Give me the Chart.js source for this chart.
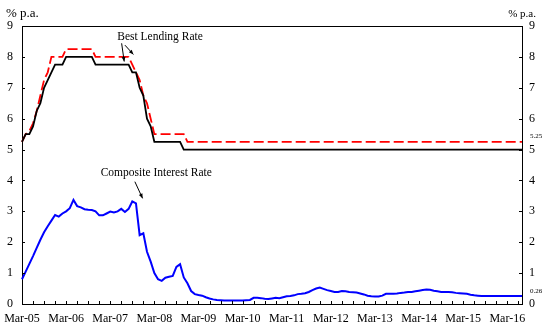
<!DOCTYPE html>
<html>
<head>
<meta charset="utf-8">
<script src="https://cdn.jsdelivr.net/npm/chart.js@4.4.0/dist/chart.umd.min.js"></script>
<style>
  html, body { margin: 0; padding: 0; background: #fff; }
  canvas { display: block; }
</style>
</head>
<body>
<canvas id="chart" width="548" height="333"></canvas>
<script>
// Lending rates vs composite interest rate, monthly from Mar-05 to Jul-16

const MONTH_NAMES = ['Jan', 'Feb', 'Mar', 'Apr', 'May', 'Jun', 'Jul', 'Aug', 'Sep', 'Oct', 'Nov', 'Dec'];
const tickLabels = ['Mar-05', 'Mar-06', 'Mar-07', 'Mar-08', 'Mar-09', 'Mar-10',
  'Mar-11', 'Mar-12', 'Mar-13', 'Mar-14', 'Mar-15', 'Mar-16'];
const yTicks = [0, 1, 2, 3, 4, 5, 6, 7, 8, 9];

// Best lending rate (lower band, black), one row per year Mar..Feb
const blrLow = [
  5.25, 5.5, 5.5, 5.75, 6.25, 6.5, 7.0, 7.25, 7.5, 7.75, 7.75, 7.75,
  8.0, 8.0, 8.0, 8.0, 8.0, 8.0, 8.0, 8.0, 7.75, 7.75, 7.75, 7.75,
  7.75, 7.75, 7.75, 7.75, 7.75, 7.75, 7.5, 7.5, 7.0, 6.75, 6.0, 5.75,
  5.25, 5.25, 5.25, 5.25, 5.25, 5.25, 5.25, 5.25, 5.0, 5.0, 5.0, 5.0,
  5.0, 5.0, 5.0, 5.0, 5.0, 5.0, 5.0, 5.0, 5.0, 5.0, 5.0, 5.0,
  5.0, 5.0, 5.0, 5.0, 5.0, 5.0, 5.0, 5.0, 5.0, 5.0, 5.0, 5.0,
  5.0, 5.0, 5.0, 5.0, 5.0, 5.0, 5.0, 5.0, 5.0, 5.0, 5.0, 5.0,
  5.0, 5.0, 5.0, 5.0, 5.0, 5.0, 5.0, 5.0, 5.0, 5.0, 5.0, 5.0,
  5.0, 5.0, 5.0, 5.0, 5.0, 5.0, 5.0, 5.0, 5.0, 5.0, 5.0, 5.0,
  5.0, 5.0, 5.0, 5.0, 5.0, 5.0, 5.0, 5.0, 5.0, 5.0, 5.0, 5.0,
  5.0, 5.0, 5.0, 5.0, 5.0, 5.0, 5.0, 5.0, 5.0, 5.0, 5.0, 5.0,
  5.0, 5.0, 5.0, 5.0, 5.0
];

// Best lending rate (upper band, red dashed)
const blrHigh = [
  5.25, 5.5, 5.6, 5.85, 6.25, 6.75, 7.25, 7.5, 8.0, 8.0, 8.0, 8.0,
  8.25, 8.25, 8.25, 8.25, 8.25, 8.25, 8.25, 8.25, 8.0, 8.0, 8.0, 8.0,
  8.0, 8.0, 8.0, 8.0, 8.0, 8.0, 7.75, 7.5, 7.25, 6.75, 6.5, 6.0,
  5.5, 5.5, 5.5, 5.5, 5.5, 5.5, 5.5, 5.5, 5.5, 5.25, 5.25, 5.25,
  5.25, 5.25, 5.25, 5.25, 5.25, 5.25, 5.25, 5.25, 5.25, 5.25, 5.25, 5.25,
  5.25, 5.25, 5.25, 5.25, 5.25, 5.25, 5.25, 5.25, 5.25, 5.25, 5.25, 5.25,
  5.25, 5.25, 5.25, 5.25, 5.25, 5.25, 5.25, 5.25, 5.25, 5.25, 5.25, 5.25,
  5.25, 5.25, 5.25, 5.25, 5.25, 5.25, 5.25, 5.25, 5.25, 5.25, 5.25, 5.25,
  5.25, 5.25, 5.25, 5.25, 5.25, 5.25, 5.25, 5.25, 5.25, 5.25, 5.25, 5.25,
  5.25, 5.25, 5.25, 5.25, 5.25, 5.25, 5.25, 5.25, 5.25, 5.25, 5.25, 5.25,
  5.25, 5.25, 5.25, 5.25, 5.25, 5.25, 5.25, 5.25, 5.25, 5.25, 5.25, 5.25,
  5.25, 5.25, 5.25, 5.25, 5.25
];

// Composite interest rate (blue)
const compositeRate = [
  0.80, 1.05, 1.30, 1.55, 1.82, 2.08, 2.32, 2.52, 2.70, 2.88, 2.83, 2.93,
  3.00, 3.10, 3.37, 3.17, 3.13, 3.07, 3.05, 3.04, 3.00, 2.87, 2.87, 2.93,
  2.99, 2.96, 3.00, 3.08, 2.98, 3.08, 3.32, 3.26, 2.23, 2.29, 1.69, 1.37,
  1.00, 0.80, 0.75, 0.85, 0.88, 0.91, 1.20, 1.29, 0.86, 0.67, 0.42, 0.32,
  0.29, 0.27, 0.22, 0.18, 0.15, 0.13, 0.12, 0.11, 0.11, 0.11, 0.11, 0.11,
  0.11, 0.12, 0.13, 0.20, 0.20, 0.19, 0.17, 0.16, 0.18, 0.20, 0.19, 0.22,
  0.25, 0.26, 0.28, 0.32, 0.33, 0.35, 0.39, 0.45, 0.50, 0.53, 0.49, 0.45,
  0.42, 0.39, 0.39, 0.42, 0.41, 0.39, 0.38, 0.37, 0.34, 0.31, 0.27, 0.25,
  0.24, 0.24, 0.27, 0.33, 0.33, 0.33, 0.34, 0.36, 0.37, 0.39, 0.39, 0.41,
  0.43, 0.45, 0.47, 0.46, 0.43, 0.41, 0.39, 0.39, 0.39, 0.38, 0.36, 0.35,
  0.34, 0.33, 0.30, 0.28, 0.27, 0.26, 0.26, 0.26, 0.26, 0.26, 0.26, 0.26,
  0.26, 0.26, 0.26, 0.26, 0.26
];

// month labels Mar-05 ... Jul-16
const months = compositeRate.map((_, i) => {
  const m = (2 + i) % 12;
  const y = 5 + Math.floor((2 + i) / 12);
  return MONTH_NAMES[m] + '-' + String(y).padStart(2, '0');
});

const FONT = "'Liberation Serif', 'Times New Roman', serif";

// annotation anchors in data units: [monthIndex, value]
const notes = {
  blrText: [25.9, 8.64],
  blrArrowLow: [[27.1, 8.44], [27.8, 7.85]],
  blrArrowHigh: [[28.0, 8.38], [30.3, 8.08]],
  ciText: [21.4, 4.25],
  ciArrow: [[30.7, 3.96], [32.8, 3.42]],
};

function arrow(ctx, x1, y1, x2, y2) {
  const ang = Math.atan2(y2 - y1, x2 - x1);
  const len = 5;
  ctx.beginPath();
  ctx.moveTo(x1, y1);
  ctx.lineTo(x2, y2);
  ctx.stroke();
  ctx.beginPath();
  ctx.moveTo(x2, y2);
  ctx.lineTo(x2 - len * Math.cos(ang - 0.4), y2 - len * Math.sin(ang - 0.4));
  ctx.lineTo(x2 - len * Math.cos(ang + 0.4), y2 - len * Math.sin(ang + 0.4));
  ctx.closePath();
  ctx.fill();
}

const framePlugin = {
  id: 'frame',
  afterDraw(chart) {
    const { ctx, chartArea: a, scales } = chart;
    const xs = scales.x, ys = scales.y;
    const px = (p) => [xs.getPixelForValue(p[0]), ys.getPixelForValue(p[1])];
    ctx.save();
    ctx.strokeStyle = '#000';
    ctx.fillStyle = '#000';
    ctx.lineWidth = 1;

    // top border
    ctx.beginPath();
    ctx.moveTo(a.left, a.top + 0.5);
    ctx.lineTo(a.right, a.top + 0.5);
    ctx.stroke();

    // inward ticks on both value axes
    yTicks.forEach(v => {
      const y = Math.round(ys.getPixelForValue(v)) + 0.5;
      ctx.beginPath();
      ctx.moveTo(a.left, y); ctx.lineTo(a.left + 3, y);
      ctx.moveTo(a.right - 3, y); ctx.lineTo(a.right, y);
      ctx.stroke();
    });

    // quarterly inward ticks on the time axis
    for (let i = 0; i < months.length; i += 3) {
      const x = Math.round(xs.getPixelForValue(i)) + 0.5;
      ctx.beginPath();
      ctx.moveTo(x, a.bottom); ctx.lineTo(x, a.bottom - 3);
      ctx.stroke();
    }

    // unit captions
    ctx.font = '13px ' + FONT;
    ctx.textBaseline = 'middle';
    ctx.textAlign = 'left';
    ctx.fillText('% p.a.', 6, 14);
    ctx.font = '11px ' + FONT;
    ctx.textAlign = 'right';
    ctx.fillText('% p.a.', 536, 14);

    // series annotations
    ctx.font = '11.5px ' + FONT;
    ctx.textAlign = 'left';
    let [tx, ty] = px(notes.blrText);
    ctx.fillText('Best Lending Rate', tx, ty);
    [tx, ty] = px(notes.ciText);
    ctx.fillText('Composite Interest Rate', tx, ty);

    [notes.blrArrowLow, notes.blrArrowHigh, notes.ciArrow].forEach(([p1, p2]) => {
      const [x1, y1] = px(p1), [x2, y2] = px(p2);
      arrow(ctx, x1, y1, x2, y2);
    });

    // latest values next to right axis
    ctx.font = '7px ' + FONT;
    ctx.textAlign = 'left';
    const last = months.length - 1;
    ctx.fillText(blrHigh[last].toFixed(2), a.right + 8, ys.getPixelForValue(blrHigh[last]) - 6);
    ctx.fillText(compositeRate[last].toFixed(2), a.right + 8, ys.getPixelForValue(compositeRate[last]) - 5);
    ctx.restore();
  }
};

const axisFont = { family: FONT, size: 12 };

new Chart(document.getElementById('chart'), {
  type: 'line',
  data: {
    labels: months,
    datasets: [
      { label: 'Best Lending Rate (low)', data: blrLow, borderColor: '#000000', borderWidth: 1.8, yAxisID: 'y' },
      { label: 'Best Lending Rate (high)', data: blrHigh, borderColor: '#ff0000', borderWidth: 1.8, borderDash: [10, 4], yAxisID: 'y' },
      { label: 'Composite Interest Rate', data: compositeRate, borderColor: '#0000ff', borderWidth: 2, yAxisID: 'y' },
    ],
  },
  options: {
    responsive: false,
    animation: false,
    devicePixelRatio: 1,
    elements: { point: { radius: 0 }, line: { tension: 0, borderCapStyle: 'butt' } },
    layout: { padding: { top: 26, left: 0, right: 0, bottom: 0 } },
    plugins: { legend: { display: false }, tooltip: { enabled: false } },
    scales: {
      x: {
        type: 'category',
        offset: false,
        grid: { display: false, drawTicks: false },
        border: { display: true, color: '#000', width: 1 },
        ticks: {
          autoSkip: false, maxRotation: 0, minRotation: 0, padding: 8,
          color: '#000', font: axisFont,
          callback: (v, i) => (i % 12 === 0 ? tickLabels[i / 12] : ''),
        },
        afterFit: (s) => { s.height = 29; s.paddingLeft = 0; s.paddingRight = 0; },
      },
      y: {
        position: 'left', min: 0, max: 9,
        grid: { display: false, drawTicks: false },
        border: { display: true, color: '#000', width: 1 },
        ticks: { stepSize: 1, padding: 9, color: '#000', font: axisFont },
        afterFit: (s) => { s.width = 22; s.paddingTop = 0; s.paddingBottom = 0; },
      },
      y2: {
        position: 'right', min: 0, max: 9,
        grid: { display: false, drawTicks: false },
        border: { display: true, color: '#000', width: 1 },
        ticks: { stepSize: 1, padding: 7, color: '#000', font: axisFont },
        afterFit: (s) => { s.width = 26; s.paddingTop = 0; s.paddingBottom = 0; },
      },
    },
  },
  plugins: [framePlugin],
});
</script>
</body>
</html>
